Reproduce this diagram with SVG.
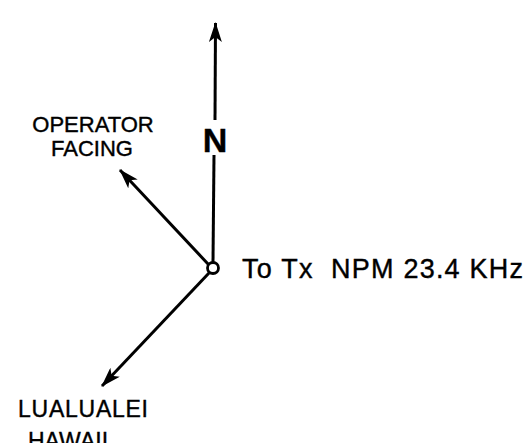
<svg xmlns="http://www.w3.org/2000/svg" width="531" height="443" viewBox="0 0 531 443">
<style>
.ln{stroke:#000;stroke-width:3;fill:none}
.t{font-family:"Liberation Sans",Arial,sans-serif;fill:#000;stroke:#000;stroke-width:0.4}
</style>
<defs>
<marker id="ah" viewBox="0 0 20 13" refX="19" refY="6.5" markerWidth="20" markerHeight="13" markerUnits="userSpaceOnUse" orient="auto">
<path d="M0,0 L20,6.5 L0,13 L5,6.5 Z" fill="#000"/>
</marker>
</defs>
<rect width="531" height="443" fill="#fff"/>
<g id="connectors">
<line class="ln" x1="215" y1="120" x2="215.5" y2="23" marker-end="url(#ah)"/>
<line class="ln" x1="214" y1="155" x2="213" y2="262"/>
<line class="ln" x1="208.5" y1="264.5" x2="120" y2="170" marker-end="url(#ah)"/>
<line class="ln" x1="209" y1="273" x2="102" y2="386" marker-end="url(#ah)"/>
</g>
<g id="node-center">
<circle cx="213" cy="268" r="5.5" fill="#fff" stroke="#000" stroke-width="2.8"/>
</g>
<g id="label-n"><text class="t" x="215" y="152" font-size="34" font-weight="bold" text-anchor="middle">N</text></g>
<g id="label-operator">
<text class="t" x="93" y="132" font-size="22" text-anchor="middle">OPERATOR</text>
<text class="t" x="92" y="156" font-size="22" text-anchor="middle">FACING</text>
</g>
<g id="label-tx"><text class="t" x="242" y="278" font-size="27" textLength="281" lengthAdjust="spacing" xml:space="preserve">To Tx  NPM 23.4 KHz</text></g>
<g id="label-lualualei">
<text class="t" x="18" y="417" font-size="23" textLength="130" lengthAdjust="spacing">LUALUALEI</text>
<text class="t" x="28" y="449" font-size="23">HAWAII</text>
</g>
</svg>
